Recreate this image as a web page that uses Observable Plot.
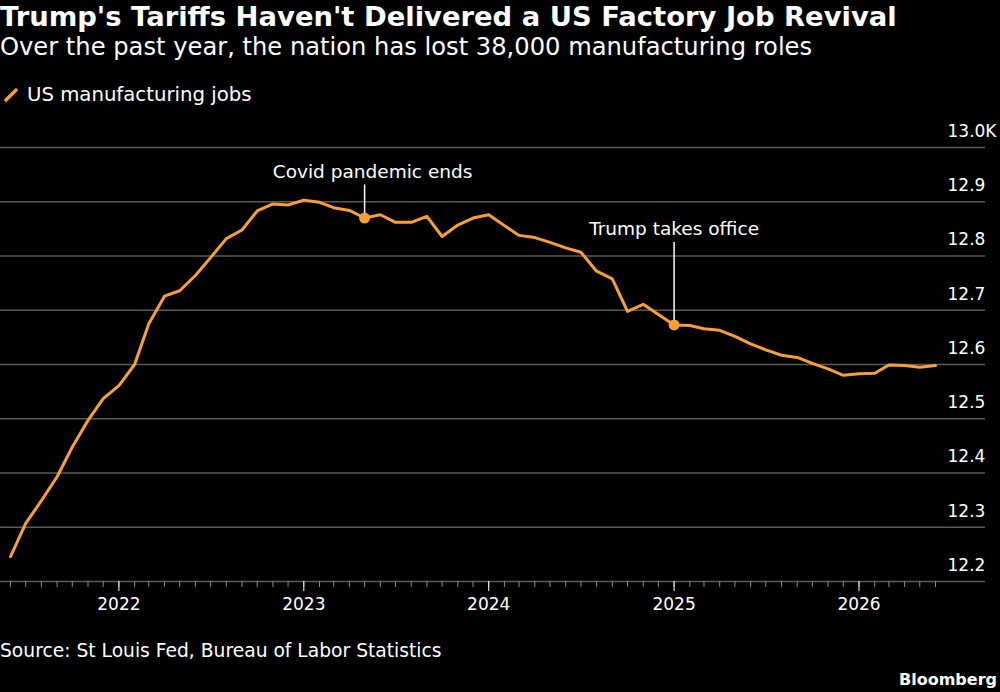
<!DOCTYPE html>
<html><head><meta charset="utf-8">
<script src="https://cdn.jsdelivr.net/npm/d3@7"></script>
<script src="https://cdn.jsdelivr.net/npm/@observablehq/plot@0.6"></script>
<style>
html,body{margin:0;padding:0;background:#000;}
body{width:1000px;height:692px;position:relative;overflow:hidden;font-family:"DejaVu Sans",sans-serif;color:#fff;}
.t{position:absolute;left:0;white-space:nowrap;line-height:1;}
#title{top:3px;font-weight:bold;font-size:27.4px;}
#subtitle{top:35px;font-size:24.2px;}
#legend{top:85px;left:4px;font-size:19.7px;display:flex;align-items:center;}
#legend svg{margin-right:9px;}
#chart{position:absolute;left:0;top:115px;}
#source{top:642px;font-size:18.7px;}
#brand{top:672px;left:auto;right:3px;font-size:16px;font-weight:bold;}
</style></head>
<body>
<div class="t" id="title">Trump's Tariffs Haven't Delivered a US Factory Job Revival</div>
<div class="t" id="subtitle">Over the past year, the nation has lost 38,000 manufacturing roles</div>
<div class="t" id="legend"><svg width="14" height="14"><line x1="2" y1="12" x2="12" y2="2" stroke="#f7a035" stroke-width="3.5" stroke-linecap="round"/></svg>US manufacturing jobs</div>
<div id="chart"></div>
<div class="t" id="source">Source: St Louis Fed, Bureau of Labor Statistics</div>
<div class="t" id="brand">Bloomberg</div>
<script>
// Monthly US manufacturing jobs (millions; axis shown as K of thousands), Jun 2021 – Jun 2026
const startMonth = "2021-06-01";
const jobs = [
  12.246, 12.307, 12.349, 12.393, 12.448, 12.497, 12.537, 12.561, 12.600, 12.675,
  12.726, 12.736, 12.764, 12.797, 12.832, 12.848, 12.883, 12.896, 12.894, 12.903,
  12.899, 12.889, 12.884, 12.870, 12.876, 12.862, 12.862, 12.873, 12.836, 12.857,
  12.870, 12.876, 12.856, 12.838, 12.834, 12.825, 12.815, 12.807, 12.772, 12.758,
  12.698, 12.711, 12.692, 12.673, 12.672, 12.666, 12.663, 12.652, 12.638, 12.627,
  12.617, 12.613, 12.602, 12.592, 12.580, 12.583, 12.584, 12.599, 12.598, 12.595,
  12.598
];
const yTicks = [12.2, 12.3, 12.4, 12.5, 12.6, 12.7, 12.8, 12.9, 13.0];
const annoDates = ["2023-05-01", "2025-01-01"];
const annoLabels = ["Covid pandemic ends", "Trump takes office"];
const annoLabelY = [12.955, 12.849];

const ORANGE = "#f7a035";
const start = new Date(startMonth);
const dates = jobs.map((_, i) => d3.utcMonth.offset(start, i));
const data = jobs.map((v, i) => ({date: dates[i], value: v}));
const annos = annoDates.map((d, i) => {
  const dt = new Date(d);
  const pt = data.find(p => +p.date === +dt);
  return {date: dt, value: pt.value, label: annoLabels[i], labelY: annoLabelY[i]};
});
const monthTicks = dates;
const yearTicks = dates.filter(d => d.getUTCMonth() === 0);

const chart = Plot.plot({
  width: 1000,
  height: 506,
  marginLeft: 10,
  marginRight: 65,
  marginTop: 32,
  marginBottom: 40,
  style: {background: "#000", color: "#fff", fontFamily: "DejaVu Sans, sans-serif", overflow: "visible"},
  x: {type: "utc", domain: [dates[0], dates[dates.length - 1]]},
  y: {domain: [12.2, 13.0]},
  marks: [
    Plot.ruleY(yTicks, {stroke: "#5a5a5a", strokeWidth: 1.5, insetLeft: -10, insetRight: -50}),
    Plot.axisY(yTicks, {anchor: "right", tickSize: 0, tickPadding: 12, dy: -16, textAnchor: "start",
      tickFormat: d => d === 13 ? "13.0K" : d.toFixed(1), fontSize: 17, fill: "#fff", label: null}),
    Plot.axisX(monthTicks, {tickSize: 6, stroke: "#8a8a8a", tickFormat: () => "", label: null}),
    Plot.axisX(yearTicks, {tickSize: 10, stroke: "#fff", tickPadding: 6, fontSize: 17, fill: "#fff",
      tickFormat: d3.utcFormat("%Y"), label: null}),
    Plot.line(data, {x: "date", y: "value", stroke: ORANGE, strokeWidth: 3, strokeLinejoin: "round"}),
    Plot.ruleX(annos, {x: "date", y1: "labelY", y2: "value", stroke: "#fff", strokeWidth: 1.5, insetTop: 13}),
    Plot.dot(annos, {x: "date", y: "value", r: 5.5, fill: ORANGE}),
    ...annos.map((a, i) => Plot.text([a], {x: "date", y: "labelY", text: "label", fill: "#fff",
      fontSize: 18.5, dx: i === 0 ? 8 : 0}))
  ]
});
document.getElementById("chart").appendChild(chart);
</script>
</body></html>
